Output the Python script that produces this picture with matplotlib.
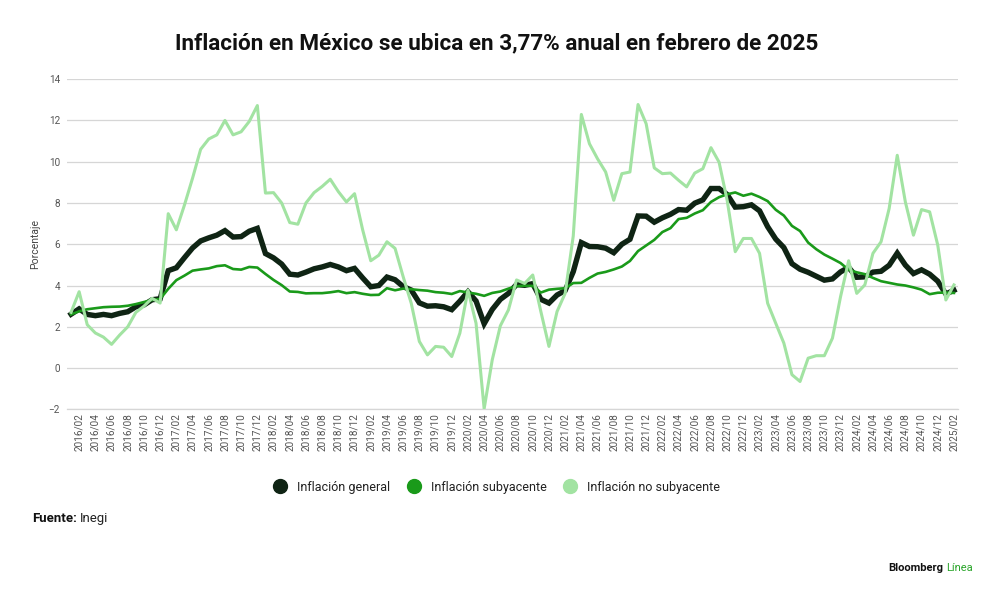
import matplotlib
matplotlib.use("Agg")
import matplotlib.pyplot as plt
from matplotlib.lines import Line2D

plt.rcParams['font.family'] = ['Roboto', 'DejaVu Sans']

# monthly, 2016/01 .. 2025/02
months = [f"{y}/{m:02d}" for y in range(2016, 2026) for m in range(1, 13)][:110]

general = [
    2.61, 2.87, 2.60, 2.54, 2.60, 2.54, 2.65, 2.73, 2.97, 3.06, 3.31, 3.36,
    4.72, 4.86, 5.35, 5.82, 6.16, 6.31, 6.44, 6.66, 6.35, 6.37, 6.63, 6.77,
    5.55, 5.34, 5.04, 4.55, 4.51, 4.65, 4.81, 4.90, 5.02, 4.90, 4.72, 4.83,
    4.37, 3.94, 4.00, 4.41, 4.28, 3.95, 3.78, 3.16, 3.00, 3.02, 2.97, 2.83,
    3.24, 3.70, 3.25, 2.15, 2.84, 3.33, 3.62, 4.05, 4.01, 4.09, 3.33, 3.15,
    3.54, 3.76, 4.67, 6.08, 5.89, 5.88, 5.81, 5.59, 6.00, 6.24, 7.37, 7.36,
    7.07, 7.28, 7.45, 7.68, 7.65, 7.99, 8.15, 8.70, 8.70, 8.41, 7.80, 7.82,
    7.91, 7.62, 6.85, 6.25, 5.84, 5.06, 4.79, 4.64, 4.45, 4.26, 4.32, 4.66,
    4.88, 4.40, 4.42, 4.65, 4.69, 4.98, 5.57, 4.99, 4.58, 4.76, 4.55, 4.21,
    3.59, 3.77,
]

subyacente = [
    2.60, 2.75, 2.85, 2.90, 2.95, 2.97, 2.98, 3.02, 3.10, 3.20, 3.30, 3.35,
    3.84, 4.26, 4.48, 4.72, 4.78, 4.83, 4.94, 4.98, 4.80, 4.77, 4.90, 4.87,
    4.56, 4.27, 4.02, 3.71, 3.69, 3.62, 3.63, 3.63, 3.67, 3.73, 3.63, 3.68,
    3.60, 3.54, 3.55, 3.87, 3.77, 3.85, 3.82, 3.78, 3.75, 3.68, 3.65, 3.59,
    3.73, 3.66, 3.60, 3.50, 3.64, 3.71, 3.85, 3.97, 3.99, 3.98, 3.66, 3.80,
    3.84, 3.87, 4.12, 4.13, 4.37, 4.58, 4.66, 4.78, 4.92, 5.19, 5.67, 5.94,
    6.21, 6.59, 6.78, 7.22, 7.28, 7.49, 7.65, 8.05, 8.28, 8.42, 8.51, 8.35,
    8.45, 8.29, 8.09, 7.67, 7.39, 6.89, 6.64, 6.08, 5.76, 5.50, 5.30, 5.09,
    4.76, 4.64, 4.55, 4.37, 4.21, 4.13, 4.05, 4.00, 3.91, 3.80, 3.58, 3.65,
    3.66, 3.64,
]

no_subyacente = [
    2.70, 3.70, 2.10, 1.70, 1.50, 1.15, 1.60, 2.00, 2.70, 3.00, 3.38, 3.15,
    7.48, 6.70, 7.90, 9.20, 10.60, 11.10, 11.30, 12.00, 11.30, 11.45, 11.95, 12.72,
    8.48, 8.50, 8.00, 7.05, 6.97, 8.00, 8.50, 8.80, 9.15, 8.55, 8.05, 8.45,
    6.70, 5.20, 5.47, 6.12, 5.80, 4.43, 3.14, 1.29, 0.64, 1.05, 1.01, 0.56,
    1.69, 3.78, 2.17, -1.97, 0.40, 2.05, 2.82, 4.27, 4.10, 4.51, 2.74, 1.05,
    2.74, 3.62, 6.40, 12.29, 10.87, 10.14, 9.50, 8.13, 9.42, 9.50, 12.77, 11.84,
    9.70, 9.42, 9.45, 9.10, 8.78, 9.45, 9.66, 10.68, 9.98, 8.13, 5.64, 6.28,
    6.28, 5.56, 3.14, 2.17, 1.21, -0.32, -0.65, 0.48, 0.60, 0.60, 1.45, 3.46,
    5.20, 3.62, 4.03, 5.56, 6.12, 7.73, 10.31, 8.05, 6.44, 7.68, 7.57, 5.96,
    3.30, 4.03,
]

labels = ['Inflación general', 'Inflación subyacente', 'Inflación no subyacente']
colors = ['#0f2414', '#1a9a1a', '#a2e3a2']

fig = plt.figure(figsize=(10, 5.95), dpi=100)
ax = fig.add_axes([0.067, 0.312, 0.891, 0.555])

x = list(range(len(months)))
ax.plot(x, general, color=colors[0], lw=3.9, solid_joinstyle='miter', zorder=3)
ax.plot(x, subyacente, color=colors[1], lw=1.9, zorder=4)
ax.plot(x, no_subyacente, color=colors[2], lw=2.2, zorder=5)

ax.set_xlim(-0.5, 109.5)
ax.set_ylim(-2, 14)
ax.set_yticks(range(-2, 15, 2))
ax.set_xticks(x[1::2])
ax.set_xticklabels(months[1::2], rotation=90, fontsize=7.2, color='#555555')
ax.tick_params(axis='y', labelsize=7.2, labelcolor='#555555', length=0, pad=5)
ax.tick_params(axis='x', length=0, pad=3)
ax.grid(axis='y', color='#d6d6d6', lw=0.9)
ax.set_axisbelow(True)
for s in ['top', 'right', 'left']:
    ax.spines[s].set_visible(False)
ax.spines['bottom'].set_color('#d6d6d6')
ax.spines['bottom'].set_linewidth(0.9)
ax.set_ylabel('Porcentaje', fontsize=7.5, color='#444444', labelpad=6)

fig.text(0.497, 0.927, 'Inflación en México se ubica en 3,77% anual en febrero de 2025',
         ha='center', va='center', fontsize=16.2, fontweight='bold', color='#111111')

handles = [Line2D([], [], marker='o', ls='none', markersize=10, color=c) for c in colors]
fig.legend(handles, labels, loc='center', bbox_to_anchor=(0.494, 0.181), ncol=3,
           frameon=False, fontsize=9, handletextpad=0.35, columnspacing=0.9,
           labelcolor='#222222')

fig.canvas.draw()
r = fig.canvas.get_renderer()
t1 = fig.text(0.032, 0.128, 'Fuente:', fontsize=9.5, fontweight='bold', color='#111111',
              va='center')
bb = t1.get_window_extent(r)
fig.text(bb.x1 / fig.bbox.width + 0.003, 0.128, 'Inegi', fontsize=9.5, color='#222222',
         va='center')

t2 = fig.text(0.973, 0.045, 'Línea', fontsize=8, color='#2aa52a', ha='right', va='center')
bb2 = t2.get_window_extent(r)
fig.text(bb2.x0 / fig.bbox.width - 0.003, 0.045, 'Bloomberg', fontsize=8,
         fontweight='bold', color='#111111', ha='right', va='center')

fig.savefig('out.png', dpi=100, facecolor='white')
